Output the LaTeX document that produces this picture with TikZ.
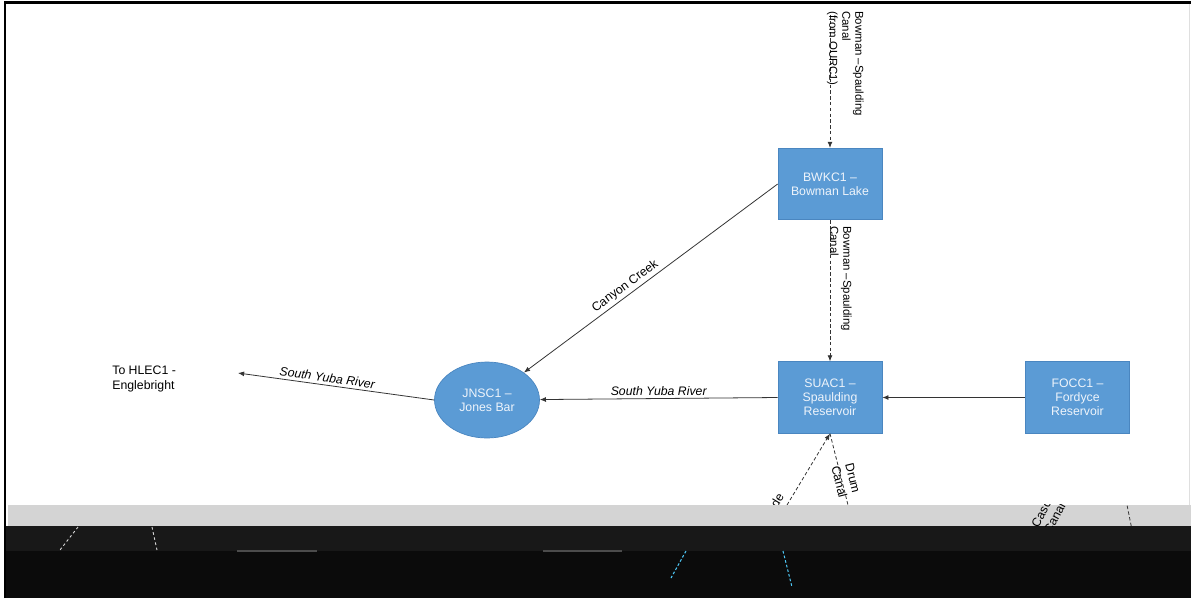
\documentclass[tikz,border=0pt]{standalone}
\usepackage{fontspec}
\setmainfont{Liberation Sans}
\usetikzlibrary{arrows.meta,shapes.geometric}

\definecolor{boxblue}{HTML}{5B9BD5}
\definecolor{boxedge}{HTML}{4A86C0}
\definecolor{boxtext}{HTML}{EEF4FB}
\definecolor{linegray}{HTML}{333333}
\definecolor{bandgray}{HTML}{D4D4D4}
\definecolor{darkband}{HTML}{181818}
\definecolor{blackband}{HTML}{0B0B0B}

\begin{document}
\begin{tikzpicture}[x=0.02cm, y=-0.02cm, font=\fontsize{7}{8}\selectfont, site/.style={rectangle, draw=boxedge, line width=0.4pt, fill=boxblue, text=boxtext, align=center, minimum width=2.08cm, minimum height=1.43cm, inner sep=0pt}, pond/.style={site, ellipse, minimum width=2.1cm, minimum height=1.52cm}, flow/.style={-{Latex[length=3.5pt,width=2.8pt]}, draw=linegray, line width=0.45pt}, canal/.style={flow, dash pattern=on 2pt off 1.3pt}, river/.style={font=\fontsize{7}{8}\selectfont\itshape, sloped, above, inner sep=1.5pt}, creek/.style={sloped, above, inner sep=1.5pt}, vlabel/.style={rotate=-90, anchor=north west, align=left, inner sep=0pt, font=\fontsize{6.5}{7.4}\selectfont}]
\useasboundingbox (0,0) rectangle (1191,600);
\fill[white] (0,0) rectangle (1191,600);
% sites
\node[site] (BWKC) at (830,184) {BWKC1 --\\Bowman Lake};
\node[site] (SUAC) at (830,397.5) {SUAC1 --\\Spaulding\\Reservoir};
\node[site] (FOCC) at (1077.5,397.5) {FOCC1 --\\Fordyce\\Reservoir};
\node[pond] (JNSC) at (487,400) {JNSC1 --\\Jones Bar};
\node[align=left, anchor=north west, inner sep=0pt] (HLEC) at (112,366) {To HLEC1 -\\Englebright};
\coordinate (OURC) at (830,15); \coordinate (HLECend) at (238,373);
% canals and rivers
\draw[canal] (OURC) -- (BWKC.north);
\node[vlabel] (topcanal) at (864,11) {Bowman --Spaulding\\Canal\\(from OURC1)};
\draw[canal] (BWKC.south) -- (SUAC.north);
\node[vlabel] (midcanal) at (852,226) {Bowman --Spaulding\\Canal};
\draw[flow] (BWKC.west) -- (JNSC) node[pos=0.58, creek] {Canyon Creek};
\draw[flow] (SUAC.west) -- (JNSC) node[midway, river] {South Yuba River};
\draw[flow] (FOCC.west) -- (SUAC.east);
\draw[flow] (JNSC.west) -- (HLECend) node[pos=0.55, river] {South Yuba River};
% canals leaving Spaulding
\coordinate (cascL) at (787,505); \coordinate (drumR) at (848,505);
\draw[canal] (cascL) -- (SUAC.south);
\draw[canal, -] (SUAC.south) -- (drumR);
\node[rotate=59, anchor=south east, inner sep=0pt] (casclabel) at (785,497) {Cascade};
\node[rotate=-76, align=center, inner sep=0pt] (drumlabel) at (846,480) {Drum\\Canal};
% broken bottom of the screenshot
\fill[bandgray] (8,505) rectangle (1191,526);
\fill[darkband] (5,526) rectangle (1191,551);
\fill[blackband] (5,551) rectangle (1191,598);
\draw[gray!60!black, line width=1pt] (237,551) -- (317,551) (543,551) -- (622,551);
\draw[white!70!gray, dash pattern=on 1.5pt off 1.5pt, line width=0.5pt] (78,527) -- (60,550) (152,527) -- (157,550);
\draw[cyan!70!white, dash pattern=on 1.5pt off 1.2pt, line width=0.6pt] (686,551) -- (671,578) (783,551) -- (792,587);
\begin{scope}
\clip (1000,504) rectangle (1191,526);
\node[rotate=62, anchor=north west, align=left, inner sep=0pt] (casc2) at (1030,524) {Cascade\\Canal -};
\draw[linegray, dash pattern=on 2pt off 1.3pt, line width=0.45pt] (1126,500) -- (1132,530);
\end{scope}
% frame
\draw[black, line width=1.6pt] (5,598) -- (5,2.5) -- (1191,2.5);
\draw[gray!25] (1189,4) -- (1189,505);
\end{tikzpicture}
\end{document}
